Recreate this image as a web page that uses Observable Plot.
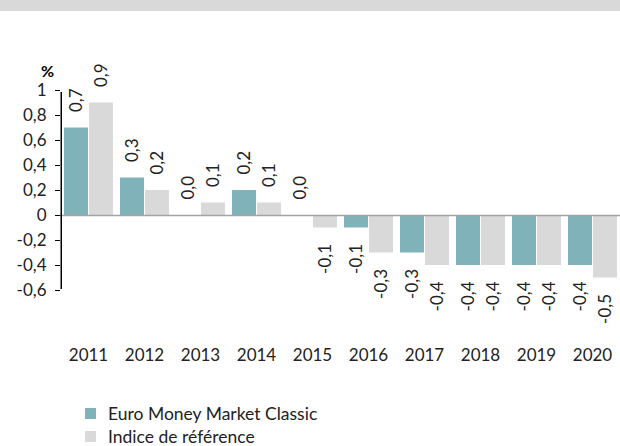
<!DOCTYPE html>
<html>
<head>
<meta charset="utf-8">
<script src="https://cdn.jsdelivr.net/npm/d3@7"></script>
<script src="https://cdn.jsdelivr.net/npm/@observablehq/plot@0.6"></script>
<style>
  body { margin: 0; background: #fff; font-family: Lato, sans-serif; width: 620px; height: 446px; overflow: hidden; position: relative; }
  #band { position: absolute; left: 0; top: 0; width: 620px; height: 11px; background: #d9d9d9; }
  #chart { position: absolute; left: 0; top: 11px; }
  #pct { position: absolute; left: 41px; top: 61px; font-size: 16px; font-weight: bold; color: #000; }
  #legend { position: absolute; left: 85px; top: 402px; font-size: 17.5px; color: #222; }
  .row { display: flex; align-items: center; height: 23px; line-height: 20px; }
  .sw { width: 11px; height: 11px; margin-right: 12px; }
</style>
</head>
<body>
<div id="band"></div>
<div id="chart"></div>
<div id="pct">%</div>
<div id="legend"></div>
<script>
const years = [2011, 2012, 2013, 2014, 2015, 2016, 2017, 2018, 2019, 2020];
const fundValues = [0.7, 0.3, 0.0, 0.2, 0.0, -0.1, -0.3, -0.4, -0.4, -0.4];
const indexValues = [0.9, 0.2, 0.1, 0.1, -0.1, -0.3, -0.4, -0.4, -0.4, -0.5];
const seriesNames = ["Euro Money Market Classic", "Indice de référence"];
const seriesColors = ["#80b3b9", "#d9d9d9"];
const yTicks = [-0.6, -0.4, -0.2, 0, 0.2, 0.4, 0.6, 0.8, 1];

const data = [];
years.forEach((y, i) => {
  data.push({year: y, series: seriesNames[0], value: fundValues[i]});
  data.push({year: y, series: seriesNames[1], value: indexValues[i]});
});
const fmt1 = d => (d < 0 ? "-" : "") + Math.abs(d).toFixed(1).replace(".", ",");
const fmtTick = d => (d < 0 ? "-" : "") + String(Math.abs(Math.round(d * 10) / 10)).replace(".", ",");

const pos = data.filter(d => d.value >= 0);
const neg = data.filter(d => d.value < 0);
const yMin = d3.min(yTicks), yMax = d3.max(yTicks);

const chart = Plot.plot({
  width: 620,
  height: 375,
  marginLeft: 60,
  marginRight: 0,
  marginTop: 79,
  marginBottom: 96,
  style: {fontFamily: "Lato, sans-serif", fontSize: "17px", color: "#222", background: "#fff"},
  fx: {domain: years, padding: 0, label: null},
  x: {domain: seriesNames, paddingInner: 0.04, paddingOuter: 0.118, axis: null},
  y: {domain: [yMin, yMax], label: null},
  color: {domain: seriesNames, range: seriesColors},
  marks: [
    Plot.axisFx({anchor: "bottom", tickSize: 0, tickPadding: 58, label: null, tickFormat: d => String(d), fontSize: 17, fill: "#222"}),
    Plot.axisY({anchor: "left", ticks: yTicks, tickFormat: fmtTick, tickSize: 5, tickPadding: 9, label: null, fontSize: 17, fill: "#222", stroke: "#000"}),
    Plot.barY(data, {fx: "year", x: "series", y: "value", fill: "series"}),
    Plot.ruleY([0], {stroke: "#a3a3a3", strokeWidth: 1.5}),
    Plot.ruleX([{year: years[0], series: seriesNames[0]}], {fx: "year", x: "series", y1: yMin, y2: yMax, dx: -15.25, stroke: "#000", strokeWidth: 1.5, insetTop: -1, insetBottom: -2}),
    Plot.text(pos, {fx: "year", x: "series", y: "value", text: d => fmt1(d.value), rotate: -90, textAnchor: "start", dy: -16, fill: "#222", fontSize: 17}),
    Plot.text(neg, {fx: "year", x: "series", y: "value", text: d => fmt1(d.value), rotate: -90, textAnchor: "end", dy: 16, fill: "#222", fontSize: 17})
  ]
});
document.getElementById("chart").appendChild(chart);

const legend = document.getElementById("legend");
seriesNames.forEach((name, i) => {
  const row = document.createElement("div");
  row.className = "row";
  const sw = document.createElement("div");
  sw.className = "sw";
  sw.style.background = seriesColors[i];
  const label = document.createElement("span");
  label.textContent = name;
  row.appendChild(sw);
  row.appendChild(label);
  legend.appendChild(row);
});
</script>
</body>
</html>
